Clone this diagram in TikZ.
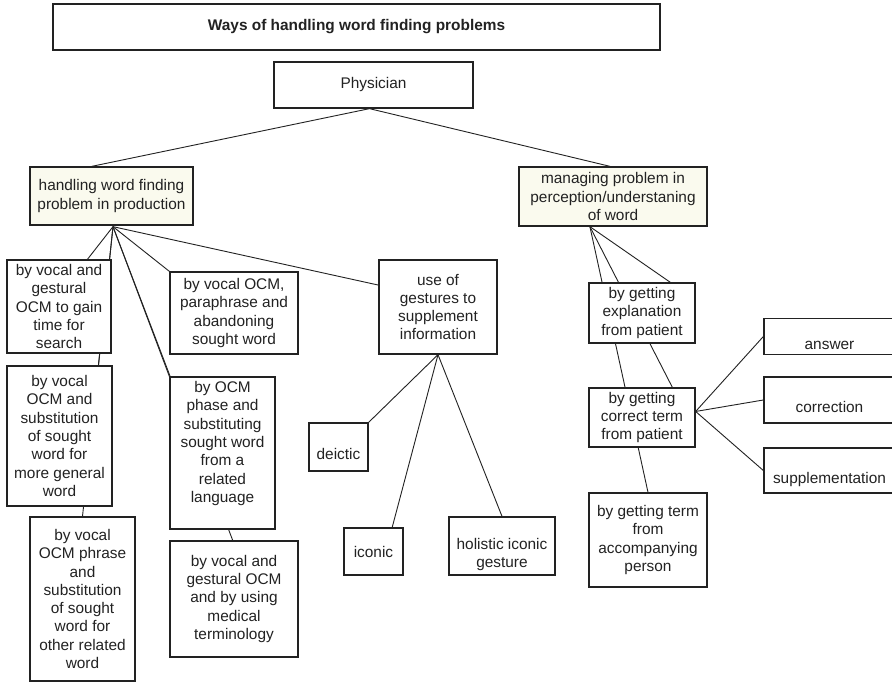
\documentclass[tikz,border=0pt]{standalone}
\usepackage{fontspec}
\setmainfont{Liberation Sans}
\usetikzlibrary{calc}
\pgfdeclarelayer{bg}
\pgfsetlayers{bg,main}
\definecolor{ink}{HTML}{222222}
\definecolor{cream}{HTML}{FAFAEE}
\tikzset{
  box/.style={draw=ink, line width=1.3pt, fill=white, inner sep=0pt, align=center,
    text=ink, font=\fontsize{15.4}{18.3}\selectfont},
  creambox/.style={box, fill=cream},
  conn/.style={draw=ink, line width=0.9pt},
}
\newcommand{\bx}[6]{\node[#1, minimum width=#4pt, minimum height=#5pt] (#2) at #3 {#6};}
\begin{document}
\begin{tikzpicture}[x=1pt,y=-1pt]
\useasboundingbox (0,0) rectangle (892,682);
% nodes
\bx{box}{title}{(356.5,27)}{607}{46}{\textbf{Ways of handling word finding problems}}
\bx{box}{phys}{(373.5,85)}{199}{46}{Physician}
\bx{creambox}{hand}{(111.5,196)}{163}{58}{handling word finding\\problem in production}
\bx{creambox}{man}{(613,196.5)}{188}{59}{managing problem in\\perception/understaning\\of word}
\bx{box}{b1}{(59,306.5)}{104}{93}{by vocal and\\gestural\\OCM to gain\\time for\\search}
\bx{box}{b2}{(59.5,436)}{105}{140}{by vocal\\OCM and\\substitution\\of sought\\word for\\more general\\word}
\bx{box}{b3}{(82.5,599)}{105}{164}{by vocal\\OCM phrase\\and\\substitution\\of sought\\word for\\other related\\word}
\bx{box}{para}{(234,313)}{128}{82}{by vocal OCM,\\paraphrase and\\abandoning\\sought word}
\bx{box}{phase}{(222.5,453)}{105}{152}{\strut by OCM\\phase and\\substituting\\sought word\\from a\\related\\language\\\strut}
\bx{box}{med}{(234,599)}{128}{116}{by vocal and\\gestural OCM\\and by using\\medical\\terminology}
\bx{box}{gest}{(438,307)}{118}{94}{use of\\gestures to\\supplement\\information}
\bx{box}{deic}{(338.5,447)}{59}{48}{\strut\\deictic\strut}
\bx{box}{icon}{(373.5,551.5)}{59}{47}{iconic}
\bx{box}{hol}{(502,546)}{106}{58}{\strut\\holistic iconic\\gesture\strut}
\bx{box}{expl}{(642,313)}{106}{60}{by getting\\explanation\\from patient}
\bx{box}{corr}{(642,417.5)}{106}{59}{by getting\\correct term\\from patient}
\bx{box}{acc}{(648,540)}{118}{94}{by getting term\\from\\accompanying\\person}
\bx{box}{ans}{(829.5,336.5)}{131}{35}{\strut\\answer\strut}
\bx{box}{corrn}{(829.5,400)}{131}{46}{\strut\\correction\strut}
\bx{box}{supp}{(829.5,470.5)}{131}{45}{\strut\\supplementation\strut}
% connectors
\begin{pgfonlayer}{bg}
\fill[white] (0,0) rectangle (892,682);
\coordinate (physb) at ($(phys.south)+(-4,0)$);
\coordinate (handb) at ($(hand.south)+(1.5,1)$);
\coordinate (manb) at ($(man.south west)!0.378!(man.south east)$);
\coordinate (gestb) at (gest.south);
\coordinate (corre) at ($(corr.north east)!0.4!(corr.south east)$);
\draw[conn] (physb) -- ($(hand.north west)!0.38!(hand.north east)$);
\draw[conn] (physb) -- ($(man.north)+(-3,0)$);
\draw[conn] (handb) -- ($(b1.north west)!0.77!(b1.north east)$);
\draw[conn] (handb) -- ($(b2.north west)!0.867!(b2.north east)$);
\draw[conn] (handb) -- ($(b3.north west)!0.5!(b3.north east)$);
\draw[conn] (handb) -- (para.north west);
\draw[conn] (handb) -- (phase.north west);
\draw[conn] (handb) -- ($(med.north west)!0.49!(med.north east)$);
\draw[conn] (handb) -- ($(gest.north west)!0.27!(gest.south west)$);
\draw[conn] (gestb) -- (deic.north east);
\draw[conn] (gestb) -- ($(icon.north west)!0.81!(icon.north east)$);
\draw[conn] (gestb) -- (hol.north);
\draw[conn] (manb) -- ($(expl.north west)!0.764!(expl.north east)$);
\draw[conn] (manb) -- ($(corr.north west)!0.783!(corr.north east)$);
\draw[conn] (manb) -- (acc.north);
\draw[conn] (corre) -- (ans.west);
\draw[conn] (corre) -- (corrn.west);
\draw[conn] (corre) -- (supp.west);
\end{pgfonlayer}
\end{tikzpicture}
\end{document}
